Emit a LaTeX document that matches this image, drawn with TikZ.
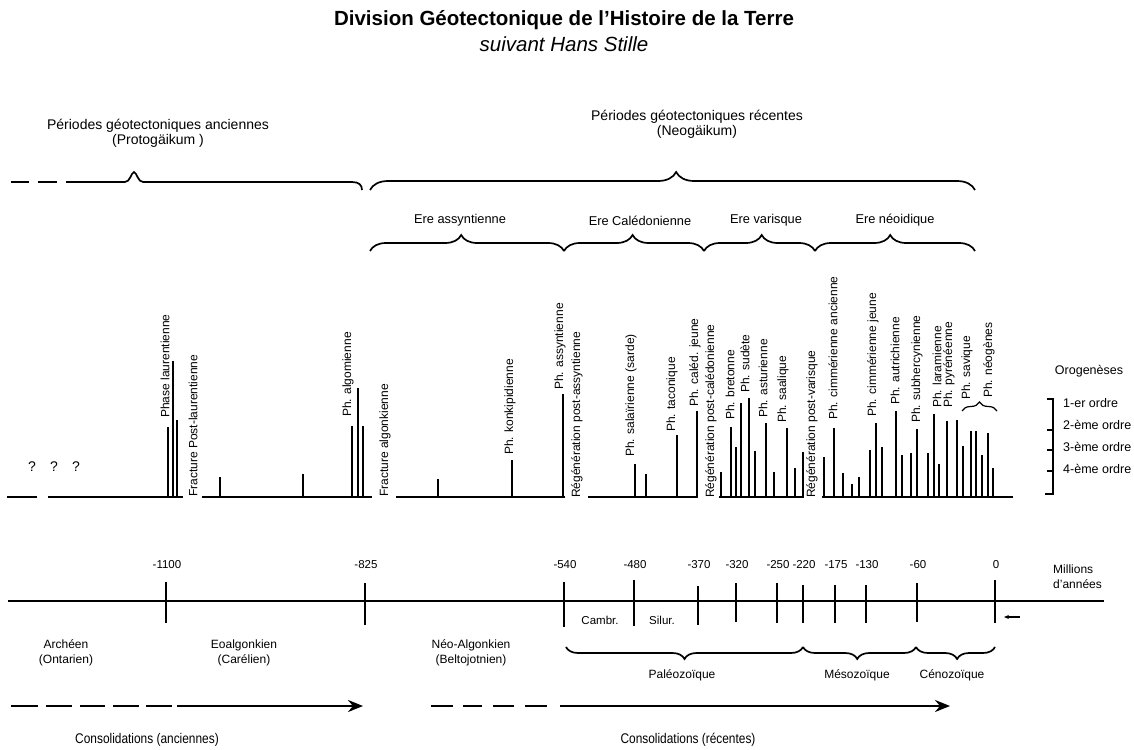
\documentclass[tikz,border=0pt]{standalone}
\usepackage{fontspec}
\setmainfont{Liberation Sans}
\usetikzlibrary{decorations.pathreplacing,arrows.meta}

\tikzset{
  txt/.style={inner sep=0pt, font=\fontsize{12}{15}\selectfont},
  vtxt/.style={txt, rotate=90, anchor=west},
  phline/.style={line width=2.6pt},
  phbar/.style={line width=1.8pt},
  axtick/.style={line width=1.5pt},
  brc/.style={line width=1.7pt, decorate, decoration={brace, aspect=#1}},
  brc/.default=0.5,
  consol/.style={line width=2.6pt, -{Stealth[length=15pt, width=12pt, inset=5pt]}},
}

\begin{document}
\begin{tikzpicture}[x=1pt, y=-1pt]
    \fill[white] (0,0) rectangle (1134,749);
    \useasboundingbox (0,0) rectangle (1134,749);

    \node[inner sep=0pt, font=\bfseries\fontsize{20.5}{24}\selectfont] (titre) at (564,20) {Division Géotectonique de l’Histoire de la Terre};
    \node[inner sep=0pt, font=\itshape\fontsize{20.5}{24}\selectfont] (auteur) at (564,44) {suivant Hans Stille};

    \node[txt, font=\fontsize{14}{15}\selectfont, align=center] (anc) at (158,133.5) {Périodes géotectoniques anciennes\\(Protogäikum )};
    \node[txt, font=\fontsize{14}{15}\selectfont, align=center] (rec) at (697,124.5) {Périodes géotectoniques récentes\\(Neogäikum)};

    \draw[phline, line width=1.8pt] (11,182) -- (29,182) (38,182) -- (57,182);
    \draw[line width=1.7pt] (66,182) -- (125,182) .. controls (130,182) and (131,173) .. (134,172)
        .. controls (137,173) and (138,182) .. (143,182) -- (352,182) .. controls (359,182) and (362,185) .. (362,190);
    \draw[brc=0.506, decoration={amplitude=18pt}] (370,190) -- (975,190);

    \node[txt, font=\fontsize{12.8}{15}\selectfont] (assy) at (460,220) {Ere assyntienne};
    \node[txt, font=\fontsize{12.8}{15}\selectfont] (cale) at (640,221) {Ere Calédonienne};
    \node[txt, font=\fontsize{12.8}{15}\selectfont] (vari) at (766,220) {Ere varisque};
    \node[txt, font=\fontsize{12.8}{15}\selectfont] (neoi) at (895,220) {Ere néoidique};
    \begin{scope}[decoration={amplitude=16pt}]
        \draw[brc=0.47] (370,251) -- (564,251);
        \draw[brc=0.49] (564,251) -- (704,251);
        \draw[brc=0.52] (704,251) -- (815,251);
        \draw[brc=0.47] (815,251) -- (975,251);
    \end{scope}

    \foreach \a/\b in {7/37, 48/183, 202/372, 396/565, 588/698, 719/804, 822/1013}
        \draw[phline] (\a,497) -- (\b,497);
    \foreach \x/\t in {168/427, 173/361, 177/420, 220/477, 303/474, 352/426, 358/388, 363/426,
        438/479, 512/460, 563/394, 635/464, 646/474, 677/435, 697/411,
        721/472, 731/427, 736/447, 741/403, 749/398, 755/451, 766/423, 774/472, 787/428, 795/468, 803/452,
        824/457, 834/428, 843/473, 852/484, 859/477, 870/450, 876/423, 882/447, 896/411, 902/455,
        911/453, 917/429, 928/453, 934/414, 939/464, 947/421, 957/420, 963/446, 971/431, 976/431,
        982/455, 988/433, 993/468}
        \draw[phbar] (\x,497) -- (\x,\t);

    \foreach \x in {32,54,76}
        \node[txt, font=\fontsize{14}{16}\selectfont] (q\x) at (\x,467) {?};

    \foreach \x/\y/\t in {165/418/Phase laurentienne, 193/497/Fracture Post-laurentienne,
        348/417/Ph. algomienne, 385/497/Fracture algonkienne, 510/455/Ph. konkipidienne,
        560/390/Ph. assyntienne, 577/498/Régénération post-assyntienne,
        631/457/Ph. salaïrienne (sarde), 672/432/Ph. taconique, 695/407/Ph. caléd. jeune,
        711/498/Régénération post-calédonienne, 730/420/Ph. bretonne, 745/393/Ph. sudète,
        763/418/Ph. asturienne, 783/423/Ph. saalique, 812/498/Régénération post-varisque,
        833/420/Ph. cimmérienne ancienne, 873/417/Ph. cimmérienne jeune, 895/405/Ph. autrichienne,
        917/423/Ph. subhercynienne, 937/408/Ph. laramienne, 949/408/Ph. pyrénéenne,
        967/400/Ph. savique, 989/398/Ph. néogènes}
        \node[vtxt] (v\x) at (\x,\y) {\t};
    \draw[brc, decoration={amplitude=9pt}, line width=1.2pt] (962,411) -- (997,411);

    \node[txt, font=\fontsize{12.5}{15}\selectfont] (oro) at (1089,371) {Orogenèses};
    \draw[line width=1.4pt] (1047,399) -- (1053,399) -- (1053,494) -- (1045,494);
    \foreach \y in {430,450,471}
        \draw[line width=1.4pt] (1047,\y) -- (1053,\y);
    \foreach \y/\t in {403/1-er ordre, 425/2-ème ordre, 447/3-ème ordre, 469/4-ème ordre}
        \node[txt, anchor=west, font=\fontsize{12.5}{15}\selectfont] (o\y) at (1063,\y) {\t};

    \draw[phline] (8,601) -- (1104,601);
    \foreach \x/\t/\a/\b in {166/-1100/19/22, 365/-825/18/24, 564/-540/19/26, 634/-480/21/25,
        698/-370/15/24, 736/-320/18/21, 777/-250/18/22, 803/-220/16/22, 835/-175/16/22,
        866/-130/16/22, 917/-60/18/21, 995/0/21/22}
    {
        \draw[axtick] (\x,601-\a) -- (\x,601+\b);
        \node[txt, font=\fontsize{11.5}{13}\selectfont] (t\x) at (\x+1,565) {\t};
    }
    \node[txt, align=left, anchor=west] (mill) at (1053,576.5) {Millions\\d’années};
    \draw[line width=1.2pt, -{Stealth[length=5pt, width=4pt]}] (1020,617) -- (1004,617);

    \node[txt, font=\fontsize{11.5}{13}\selectfont] (cam) at (600,620) {Cambr.};
    \node[txt, font=\fontsize{11.5}{13}\selectfont] (sil) at (662,620) {Silur.};

    \node[txt, align=center] (arch) at (66,652.5) {Archéen\\(Ontarien)};
    \node[txt, align=center] (eoal) at (244,652.5) {Eoalgonkien\\(Carélien)};
    \node[txt, align=center] (neoa) at (471,652.5) {Néo-Algonkien\\(Beltojotnien)};

    \begin{scope}[decoration={amplitude=12pt, mirror}]
        \draw[brc=0.5] (566,647) -- (803,647);
        \draw[brc=0.48] (803,647) -- (916,647);
        \draw[brc=0.52] (916,647) -- (995,647);
    \end{scope}
    \node[txt] (pal) at (682,675) {Paléozoïque};
    \node[txt] (mes) at (857,675) {Mésozoïque};
    \node[txt] (cen) at (952,675) {Cénozoïque};

    \foreach \a/\b in {11/38, 46/72, 80/105, 113/139, 146/172, 431/453, 463/482, 493/514, 525/547}
        \draw[phline] (\a,706) -- (\b,706);
    \coordinate (ca1) at (177,706);
    \coordinate (ca2) at (363,706);
    \coordinate (cr1) at (560,706);
    \coordinate (cr2) at (950,706);
    \draw[consol] (ca1) -- (ca2);
    \draw[consol] (cr1) -- (cr2);
    \node[txt, font=\fontsize{14}{16}\selectfont] (cons1) at (147,740) {\scalebox{0.85}[1]{Consolidations (anciennes)}};
    \node[txt, font=\fontsize{14}{16}\selectfont] (cons2) at (688,740) {\scalebox{0.85}[1]{Consolidations (récentes)}};
\end{tikzpicture}
\end{document}
